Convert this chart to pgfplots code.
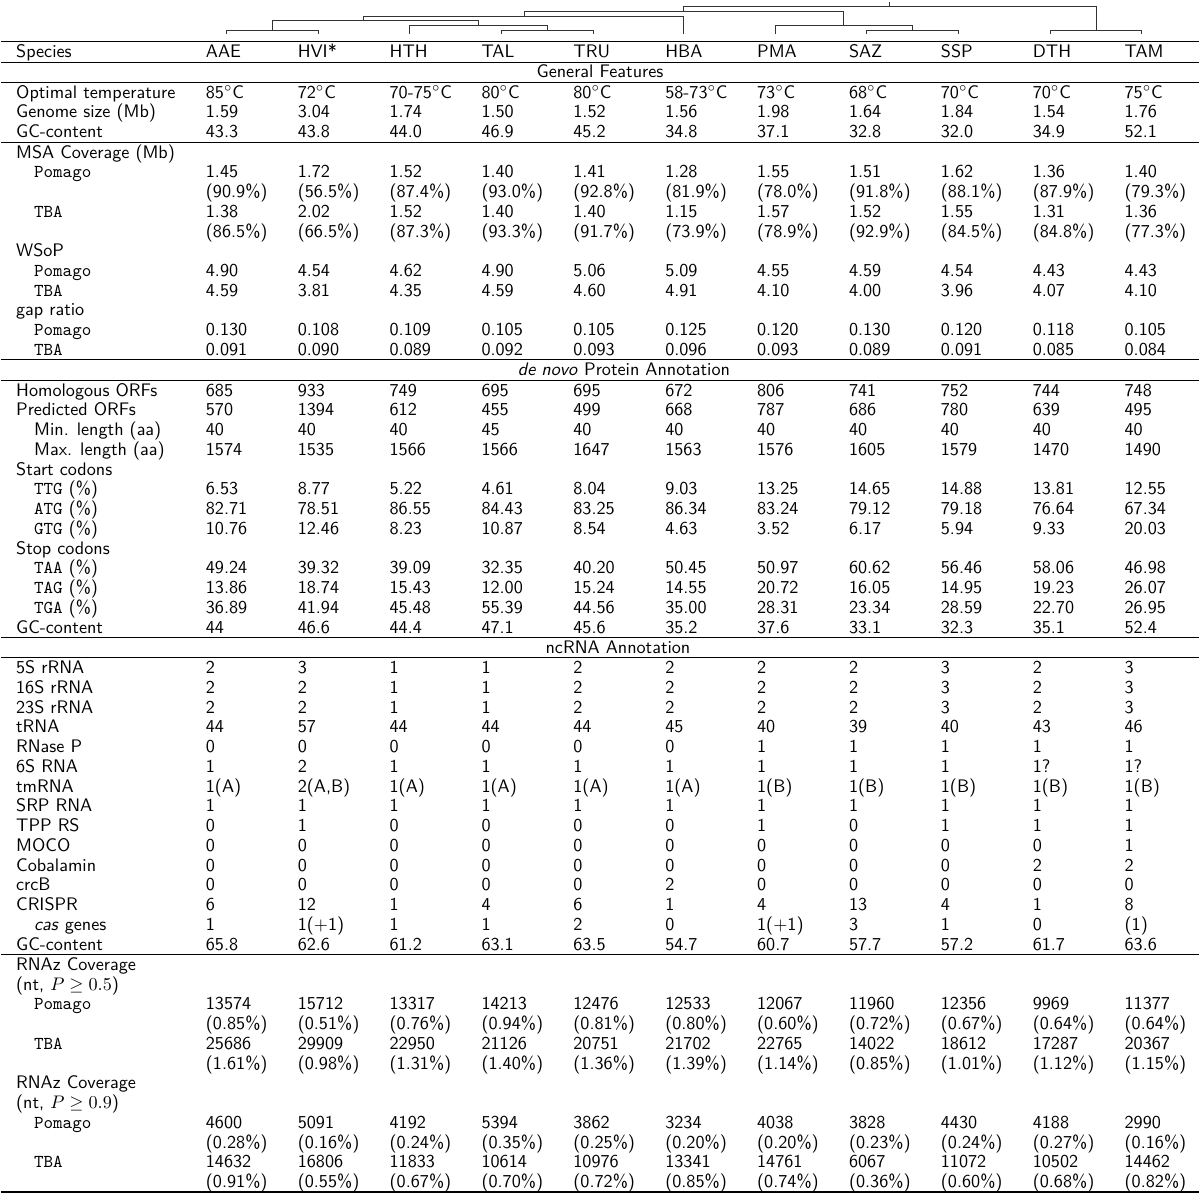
\documentclass[border=0pt]{standalone}
\usepackage{pgfplots}
\pgfplotsset{compat=1.18}
\renewcommand{\familydefault}{\sfdefault}
\def\ytop{41.4}
\def\pitch{19.77}
\def\boff{15.6}
\tikzset{cell/.style={anchor=base west,inner sep=0pt}}
\newcommand\Row[3][15]{%
  \pgfmathsetmacro\yb{\ytop+\boff}%
  \edef\tmp{\noexpand\node[cell] at (axis cs:#1,\yb) {\unexpanded{#2}};}\tmp
  \foreach \v [count=\i] in {#3} {%
    \pgfmathsetmacro\xx{205+92*(\i-1)}%
    \edef\tmp{\noexpand\node[cell] at (axis cs:\xx,\yb) {\expandafter\unexpanded\expandafter{\v}};}\tmp
  }%
  \pgfmathsetmacro\tmpy{\ytop+\pitch}\xdef\ytop{\tmpy}%
}
\newcommand\Lab[2][15]{%
  \pgfmathsetmacro\yb{\ytop+\boff}%
  \edef\tmp{\noexpand\node[cell] at (axis cs:#1,\yb) {\unexpanded{#2}};}\tmp
  \pgfmathsetmacro\tmpy{\ytop+\pitch}\xdef\ytop{\tmpy}%
}
\newcommand\Sec[2][600]{%
  \pgfmathsetmacro\yb{\ytop+\boff}%
  \edef\tmp{\noexpand\node[anchor=base,inner sep=0pt] at (axis cs:#1,\yb) {\unexpanded{#2}};}\tmp
  \pgfmathsetmacro\tmpy{\ytop+\pitch}\xdef\ytop{\tmpy}%
}
\newcommand\Rule[1]{%
  \pgfmathsetmacro\yr{\ytop+0.3}%
  \edef\tmp{\noexpand\addplot[black, line width=#1] coordinates {(0,\yr) (1200,\yr)};}\tmp
  \pgfmathsetmacro\tmpy{\ytop+0.6}\xdef\ytop{\tmpy}%
}
\begin{document}
\begin{tikzpicture}
\begin{axis}[width=660pt, height=657.8pt, scale only axis,
  xmin=0, xmax=1200, ymin=0, ymax=1196, y dir=reverse,
  hide axis, clip=false]
\addplot[draw=none] coordinates {(0,0) (1200,1196)};
% dendrogram
\pgfplotsset{dend/.style={black!80, line width=0.5pt}}
\addplot[dend] coordinates {(226,34) (226,30) (318,30) (318,34)};
\addplot[dend] coordinates {(272,30) (272,20.7)};
\addplot[dend] coordinates {(272,20.7) (478,20.7) (478,25)};
\addplot[dend] coordinates {(409,34) (409,25) (547,25) (547,30)};
\addplot[dend] coordinates {(501,34) (501,30) (593,30) (593,34)};
\addplot[dend] coordinates {(363,20.7) (363,16) (684,16) (684,34)};
\addplot[dend] coordinates {(524,16) (524,11.7) (844,11.7) (844,25)};
\addplot[dend] coordinates {(776,34) (776,25) (913,25) (913,30)};
\addplot[dend] coordinates {(867,34) (867,30) (959,30) (959,34)};
\addplot[dend] coordinates {(684,11.7) (684,6.7) (1097,6.7) (1097,30)};
\addplot[dend] coordinates {(1051,34) (1051,30) (1142,30) (1142,34)};
\addplot[dend] coordinates {(890,6.7) (890,2.5)};
% table
\Rule{0.9pt}
\Row{Species}{AAE,HVI*,HTH,TAL,TRU,HBA,PMA,SAZ,SSP,DTH,TAM}
\Rule{0.5pt}
\Sec{General Features}
\Rule{0.5pt}
\Row{Optimal temperature}{85$^\circ$C,72$^\circ$C,70-75$^\circ$C,80$^\circ$C,80$^\circ$C,58-73$^\circ$C,73$^\circ$C,68$^\circ$C,70$^\circ$C,70$^\circ$C,75$^\circ$C}
\Row{Genome size (Mb)}{1.59,3.04,1.74,1.50,1.52,1.56,1.98,1.64,1.84,1.54,1.76}
\Row{GC-content}{43.3,43.8,44.0,46.9,45.2,34.8,37.1,32.8,32.0,34.9,52.1}
\Rule{0.5pt}
\Lab{MSA Coverage (Mb)}
\Row[33]{\texttt{Pomago}}{1.45,1.72,1.52,1.40,1.41,1.28,1.55,1.51,1.62,1.36,1.40}
\Row{}{(90.9\%),(56.5\%),(87.4\%),(93.0\%),(92.8\%),(81.9\%),(78.0\%),(91.8\%),(88.1\%),(87.9\%),(79.3\%)}
\Row[33]{\texttt{TBA}}{1.38,2.02,1.52,1.40,1.40,1.15,1.57,1.52,1.55,1.31,1.36}
\Row{}{(86.5\%),(66.5\%),(87.3\%),(93.3\%),(91.7\%),(73.9\%),(78.9\%),(92.9\%),(84.5\%),(84.8\%),(77.3\%)}
\Lab{WSoP}
\Row[33]{\texttt{Pomago}}{4.90,4.54,4.62,4.90,5.06,5.09,4.55,4.59,4.54,4.43,4.43}
\Row[33]{\texttt{TBA}}{4.59,3.81,4.35,4.59,4.60,4.91,4.10,4.00,3.96,4.07,4.10}
\Lab{gap ratio}
\Row[33]{\texttt{Pomago}}{0.130,0.108,0.109,0.105,0.105,0.125,0.120,0.130,0.120,0.118,0.105}
\Row[33]{\texttt{TBA}}{0.091,0.090,0.089,0.092,0.093,0.096,0.093,0.089,0.091,0.085,0.084}
\Rule{0.5pt}
\Sec[624]{\emph{de novo} Protein Annotation}
\Rule{0.5pt}
\Row{Homologous ORFs}{685,933,749,695,695,672,806,741,752,744,748}
\Row{Predicted ORFs}{570,1394,612,455,499,668,787,686,780,639,495}
\Row[33]{Min. length (aa)}{40,40,40,45,40,40,40,40,40,40,40}
\Row[33]{Max. length (aa)}{1574,1535,1566,1566,1647,1563,1576,1605,1579,1470,1490}
\Lab{Start codons}
\Row[33]{\texttt{TTG} (\%)}{6.53,8.77,5.22,4.61,8.04,9.03,13.25,14.65,14.88,13.81,12.55}
\Row[33]{\texttt{ATG} (\%)}{82.71,78.51,86.55,84.43,83.25,86.34,83.24,79.12,79.18,76.64,67.34}
\Row[33]{\texttt{GTG} (\%)}{10.76,12.46,8.23,10.87,8.54,4.63,3.52,6.17,5.94,9.33,20.03}
\Lab{Stop codons}
\Row[33]{\texttt{TAA} (\%)}{49.24,39.32,39.09,32.35,40.20,50.45,50.97,60.62,56.46,58.06,46.98}
\Row[33]{\texttt{TAG} (\%)}{13.86,18.74,15.43,12.00,15.24,14.55,20.72,16.05,14.95,19.23,26.07}
\Row[33]{\texttt{TGA} (\%)}{36.89,41.94,45.48,55.39,44.56,35.00,28.31,23.34,28.59,22.70,26.95}
\Row{GC-content}{44,46.6,44.4,47.1,45.6,35.2,37.6,33.1,32.3,35.1,52.4}
\Rule{0.5pt}
\Sec[618]{ncRNA Annotation}
\Rule{0.5pt}
\Row{5S rRNA}{2,3,1,1,2,2,2,2,3,2,3}
\Row{16S rRNA}{2,2,1,1,2,2,2,2,3,2,3}
\Row{23S rRNA}{2,2,1,1,2,2,2,2,3,2,3}
\Row{tRNA}{44,57,44,44,44,45,40,39,40,43,46}
\Row{RNase P}{0,0,0,0,0,0,1,1,1,1,1}
\Row{6S RNA}{1,2,1,1,1,1,1,1,1,1?,1?}
\Row{tmRNA}{1(A),{2(A,B)},1(A),1(A),1(A),1(A),1(B),1(B),1(B),1(B),1(B)}
\Row{SRP RNA}{1,1,1,1,1,1,1,1,1,1,1}
\Row{TPP RS}{0,1,0,0,0,0,1,0,1,1,1}
\Row{MOCO}{0,0,0,0,0,0,0,0,0,0,1}
\Row{Cobalamin}{0,0,0,0,0,0,0,0,0,2,2}
\Row{crcB}{0,0,0,0,0,2,0,0,0,0,0}
\Row{CRISPR}{6,12,1,4,6,1,4,13,4,1,8}
\Row[33]{\emph{cas} genes}{1,1($+$1),1,1,2,0,1($+$1),3,1,0,(1)}
\Row{GC-content}{65.8,62.6,61.2,63.1,63.5,54.7,60.7,57.7,57.2,61.7,63.6}
\Rule{0.5pt}
\Lab{RNAz Coverage}
\Lab{(nt, $P\geq0.5$)}
\Row[33]{\texttt{Pomago}}{13574,15712,13317,14213,12476,12533,12067,11960,12356,9969,11377}
\Row{}{(0.85\%),(0.51\%),(0.76\%),(0.94\%),(0.81\%),(0.80\%),(0.60\%),(0.72\%),(0.67\%),(0.64\%),(0.64\%)}
\Row[33]{\texttt{TBA}}{25686,29909,22950,21126,20751,21702,22765,14022,18612,17287,20367}
\Row{}{(1.61\%),(0.98\%),(1.31\%),(1.40\%),(1.36\%),(1.39\%),(1.14\%),(0.85\%),(1.01\%),(1.12\%),(1.15\%)}
\Lab{RNAz Coverage}
\Lab{(nt, $P\geq0.9$)}
\Row[33]{\texttt{Pomago}}{4600,5091,4192,5394,3862,3234,4038,3828,4430,4188,2990}
\Row{}{(0.28\%),(0.16\%),(0.24\%),(0.35\%),(0.25\%),(0.20\%),(0.20\%),(0.23\%),(0.24\%),(0.27\%),(0.16\%)}
\Row[33]{\texttt{TBA}}{14632,16806,11833,10614,10976,13341,14761,6067,11072,10502,14462}
\Row{}{(0.91\%),(0.55\%),(0.67\%),(0.70\%),(0.72\%),(0.85\%),(0.74\%),(0.36\%),(0.60\%),(0.68\%),(0.82\%)}
\Rule{0.9pt}
\end{axis}
\end{tikzpicture}
\end{document}
